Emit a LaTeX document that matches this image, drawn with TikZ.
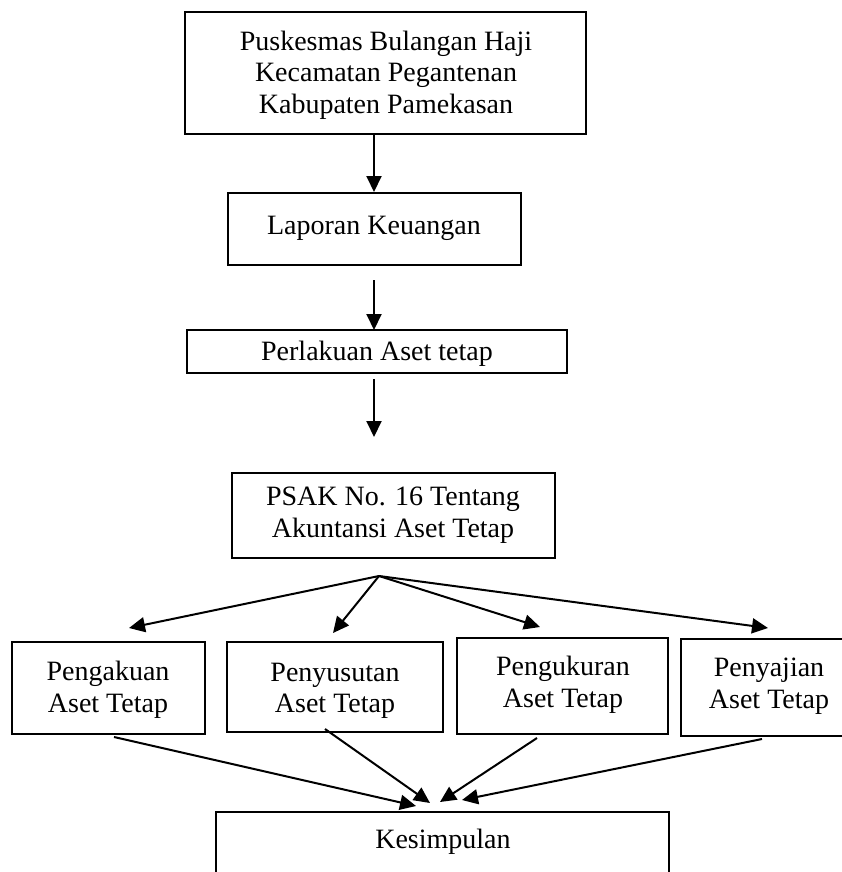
\documentclass[tikz,border=0pt]{standalone}
\usepackage{fontspec}
\setmainfont{Liberation Serif}
\usetikzlibrary{arrows.meta}
\begin{document}
\begin{tikzpicture}[x=1pt,y=-1pt,
  box/.style={draw=black,line width=1.5pt,inner sep=0pt},
  lbl/.style={font=\fontsize{28}{31.5}\selectfont,align=center,inner sep=0pt},
  arr/.style={line width=2pt,-{Triangle[length=16pt,width=15pt]}}]
\useasboundingbox (0,0) rectangle (842,872);
\clip (0,0) rectangle (842,872);
% boxes
\draw[box] (185,12) rectangle (586,134);
\node[lbl] (puskes) at (386,75) {Puskesmas Bulangan Haji\\Kecamatan Pegantenan\\Kabupaten Pamekasan};
\draw[box] (228,193) rectangle (521,265);
\node[lbl] (lap) at (374,228) {Laporan Keuangan};
\draw[box] (187,330) rectangle (567,373);
\node[lbl] (perl) at (377,354) {Perlakuan Aset tetap};
\draw[box] (232,473) rectangle (555,558);
\node[lbl] (psak) at (393,515) {PSAK No. 16 Tentang\\Akuntansi Aset Tetap};
\draw[box] (12,642) rectangle (205,734);
\node[lbl] (p1) at (108,690) {Pengakuan\\Aset Tetap};
\draw[box] (227,642) rectangle (443,732);
\node[lbl] (p2) at (335,691) {Penyusutan\\Aset Tetap};
\draw[box] (457,638) rectangle (668,734);
\node[lbl] (p3) at (563,685) {Pengukuran\\Aset Tetap};
\draw[box] (681,639) rectangle (860,736);
\node[lbl] (p4) at (769,686) {Penyajian\\Aset Tetap};
\draw[box] (216,812) rectangle (669,890);
\node[lbl] (kes) at (443,842) {Kesimpulan};
% connectors
\coordinate (a1s) at (374,134);
\coordinate (a1e) at (374,192);
\draw[arr] (a1s) -- (a1e);
\coordinate (a2s) at (374,280);
\coordinate (a2e) at (374,330);
\draw[arr] (a2s) -- (a2e);
\coordinate (a3s) at (374,379);
\coordinate (a3e) at (374,437);
\draw[arr] (a3s) -- (a3e);
\coordinate (fan) at (379,576);
\coordinate (t1) at (129,628);
\coordinate (t2) at (333,633);
\coordinate (t3) at (540,627);
\coordinate (t4) at (768,628);
\draw[arr] (fan) -- (t1);
\draw[arr] (fan) -- (t2);
\draw[arr] (fan) -- (t3);
\draw[arr] (fan) -- (t4);
\coordinate (b1) at (114,737);
\coordinate (b2) at (325,729);
\coordinate (b3) at (537,738);
\coordinate (b4) at (762,739);
\coordinate (k1) at (416,806);
\coordinate (k2) at (430,803);
\coordinate (k3) at (440,802);
\coordinate (k4) at (462,800);
\draw[arr] (b1) -- (k1);
\draw[arr] (b2) -- (k2);
\draw[arr] (b3) -- (k3);
\draw[arr] (b4) -- (k4);
\end{tikzpicture}
\end{document}
